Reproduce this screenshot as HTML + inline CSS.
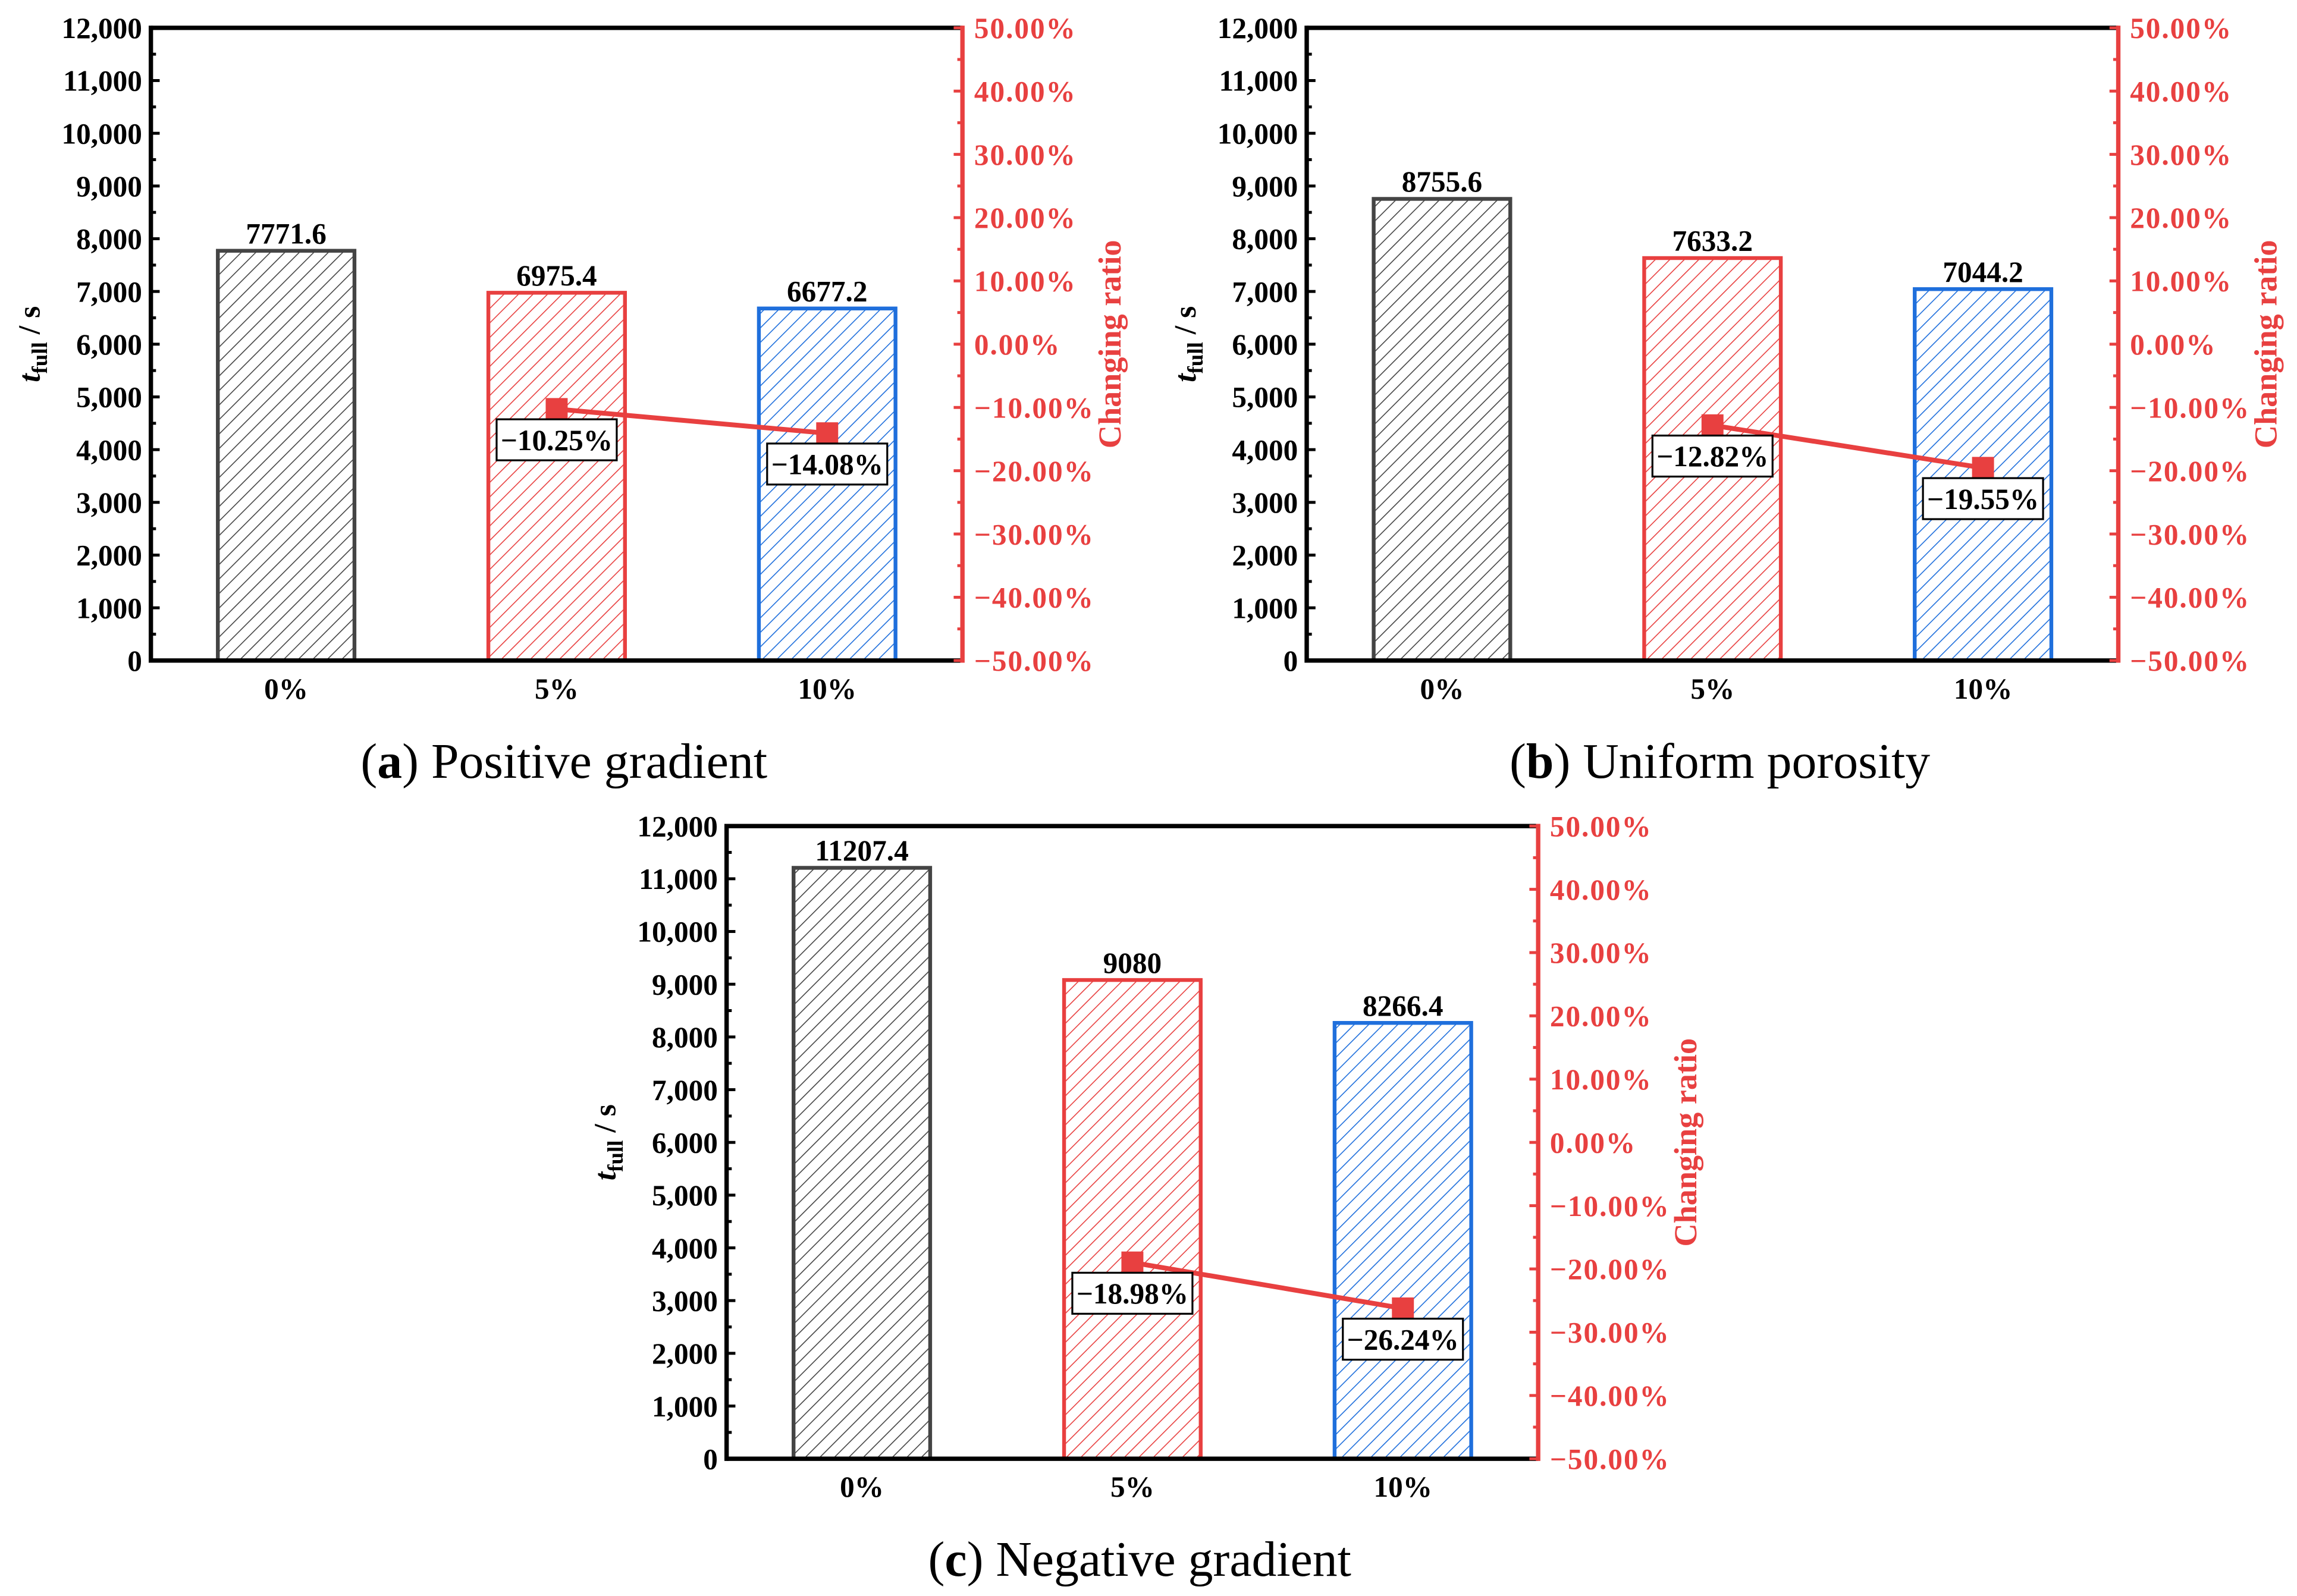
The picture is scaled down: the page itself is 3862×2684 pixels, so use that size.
<!DOCTYPE html>
<html><head><meta charset="utf-8"><style>
html,body{margin:0;padding:0;background:#fff;}
svg{display:block;}
text{font-family:"Liberation Serif",serif;font-weight:bold;}
</style></head><body>
<svg id="fig" width="3862" height="2684" viewBox="0 0 1568 1089.7" preserveAspectRatio="none" xmlns="http://www.w3.org/2000/svg">
<defs>
<pattern id="h-black" patternUnits="userSpaceOnUse" width="7" height="7" patternTransform="rotate(45)"><line x1="0" y1="0" x2="0" y2="7" stroke="#444" stroke-width="1.3"/></pattern>
<pattern id="h-red" patternUnits="userSpaceOnUse" width="7" height="7" patternTransform="rotate(45)"><line x1="0" y1="0" x2="0" y2="7" stroke="#e84040" stroke-width="1.3"/></pattern>
<pattern id="h-blue" patternUnits="userSpaceOnUse" width="7" height="7" patternTransform="rotate(45)"><line x1="0" y1="0" x2="0" y2="7" stroke="#1f6fdc" stroke-width="1.3"/></pattern>
</defs>
</svg>
<script>
const categories = ["0%", "5%", "10%"];
const timesA = [7771.6, 6975.4, 6677.2];
const timesB = [8755.6, 7633.2, 7044.2];
const timesC = [11207.4, 9080, 8266.4];
const timeLabelsA = ["7771.6", "6975.4", "6677.2"];
const timeLabelsB = ["8755.6", "7633.2", "7044.2"];
const timeLabelsC = ["11207.4", "9080", "8266.4"];
const ratiosA = [-10.25, -14.08];
const ratiosB = [-12.82, -19.55];
const ratiosC = [-18.98, -26.24];
const ratioLabelsA = ["\u221210.25%", "\u221214.08%"];
const ratioLabelsB = ["\u221212.82%", "\u221219.55%"];
const ratioLabelsC = ["\u221218.98%", "\u221226.24%"];
const leftTicks = [0,1000,2000,3000,4000,5000,6000,7000,8000,9000,10000,11000,12000];
const rightTicks = [-50,-40,-30,-20,-10,0,10,20,30,40,50];
const captionLetters = ["a","b","c"];
const captionTexts = [" Positive gradient"," Uniform porosity"," Negative gradient"];

const NS = "http://www.w3.org/2000/svg";
const svg = document.getElementById("fig");
function mk(tag, attrs, parent, txt){
  const e = document.createElementNS(NS, tag);
  for (const k in attrs) e.setAttribute(k, attrs[k]);
  if (txt !== undefined) e.textContent = txt;
  (parent || svg).appendChild(e);
  return e;
}
const colors = ["#444444", "#e84040", "#1f6fdc"];
const fills = ["url(#h-black)", "url(#h-red)", "url(#h-blue)"];
const RED = "#e84040";
const FS = 20;

function fmt(v){ return v.toLocaleString("en-US"); }
function pct(v){ return (v < 0 ? "\u2212" + Math.abs(v).toFixed(2) : v.toFixed(2)) + "%"; }

function panel(id, x0, y0, times, tLabels, ratios, rLabels, letter, capText){
  const W = 554, H = 432;
  const g = mk("g", {}, svg);
  
  
  const yL = v => y0 + H - v / 12000 * H;
  const yR = v => y0 + H - (v + 50) / 100 * H;
  const xC = i => x0 + (i + 0.5) * W / categories.length;
  const bw = W / categories.length * 0.505;

  times.forEach((v, i) => {
    const r = mk("rect", {x: xC(i) - bw/2, y: yL(v), width: bw, height: yL(0) - yL(v), fill: fills[i], stroke: colors[i], "stroke-width": 2.6}, g);
    
    
    const t = mk("text", {x: xC(i), y: yL(v) - 5, "text-anchor": "middle", "font-size": FS, fill: "#000"}, g, tLabels[i]);
    
    
  });

  const ax = mk("g", {}, g);
  
  
  mk("line", {x1: x0, y1: y0, x2: x0 + W, y2: y0, stroke: "#000", "stroke-width": 3}, ax);
  mk("line", {x1: x0, y1: y0 + H, x2: x0 + W, y2: y0 + H, stroke: "#000", "stroke-width": 3}, ax);
  mk("line", {x1: x0, y1: y0 - 1.5, x2: x0, y2: y0 + H + 1.5, stroke: "#000", "stroke-width": 3}, ax);
  mk("line", {x1: x0 + W, y1: y0 - 1.5, x2: x0 + W, y2: y0 + H + 1.5, stroke: RED, "stroke-width": 3}, ax);

  leftTicks.forEach((v, i) => {
    mk("line", {x1: x0, y1: yL(v), x2: x0 + 6, y2: yL(v), stroke: "#000", "stroke-width": 2}, ax);
    if (i < leftTicks.length - 1) {
      const m = (v + leftTicks[i+1]) / 2;
      mk("line", {x1: x0, y1: yL(m), x2: x0 + 3.5, y2: yL(m), stroke: "#000", "stroke-width": 2}, ax);
    }
    const t = mk("text", {x: x0 - 6, y: yL(v) + 7, "text-anchor": "end", "font-size": FS, fill: "#000"}, ax, fmt(v));
    
    
  });
  rightTicks.forEach((v, i) => {
    mk("line", {x1: x0 + W, y1: yR(v), x2: x0 + W - 6, y2: yR(v), stroke: RED, "stroke-width": 2}, ax);
    if (i < rightTicks.length - 1) {
      const m = (v + rightTicks[i+1]) / 2;
      mk("line", {x1: x0 + W, y1: yR(m), x2: x0 + W - 3.5, y2: yR(m), stroke: RED, "stroke-width": 2}, ax);
    }
    const t = mk("text", {x: x0 + W + 8, y: yR(v) + 7, "text-anchor": "start", "font-size": FS, "letter-spacing": 0.8, fill: RED}, ax, pct(v));
    
    
  });
  categories.forEach((c, i) => {
    const t = mk("text", {x: xC(i), y: y0 + H + 26, "text-anchor": "middle", "font-size": FS, fill: "#000"}, ax, c);
    
    
  });
  const yt = mk("text", {transform: `translate(${x0 - 76},${y0 + H/2}) rotate(-90)`, "text-anchor": "middle", "font-size": 21, fill: "#000"}, g);
  
  
  mk("tspan", {"font-style": "italic"}, yt, "t");
  mk("tspan", {dy: 5, "font-size": 15}, yt, "full");
  mk("tspan", {dy: -5}, yt, " / s");
  const rt = mk("text", {transform: `translate(${x0 + W + 108},${y0 + H/2}) rotate(-90)`, "text-anchor": "middle", "font-size": 22, fill: RED}, g, "Changing ratio");
  
  

  const pts = ratios.map((r, j) => [xC(j + 1), yR(r)]);
  const ln = mk("polyline", {points: pts.map(p => p.join(",")).join(" "), fill: "none", stroke: RED, "stroke-width": 3.3}, g);
  
  
  pts.forEach((p, j) => {
    const m = mk("rect", {x: p[0] - 7.5, y: p[1] - 7.5, width: 15, height: 15, fill: RED}, g);
    
    
    const bx = mk("rect", {x: p[0] - 41, y: p[1] + 7, width: 82, height: 28, fill: "#fff", stroke: "#000", "stroke-width": 1.3}, g);
    
    
    const t = mk("text", {x: p[0], y: p[1] + 28, "text-anchor": "middle", "font-size": FS, fill: "#000"}, g, rLabels[j]);
    
    
  });

  const cap = mk("text", {x: x0 + W/2 + 5, y: y0 + H + 80, "text-anchor": "middle", "font-size": 34, fill: "#000"}, g);
  
  
  cap.style.fontWeight = "normal";
  mk("tspan", {}, cap, "(");
  const b = mk("tspan", {}, cap, letter);
  b.style.fontWeight = "bold";
  mk("tspan", {}, cap, ")" + capText);
}

panel("a", 103, 19, timesA, timeLabelsA, ratiosA, ratioLabelsA, captionLetters[0], captionTexts[0]);
panel("b", 892, 19, timesB, timeLabelsB, ratiosB, ratioLabelsB, captionLetters[1], captionTexts[1]);
panel("c", 496, 564, timesC, timeLabelsC, ratiosC, ratioLabelsC, captionLetters[2], captionTexts[2]);
</script>
</body></html>
